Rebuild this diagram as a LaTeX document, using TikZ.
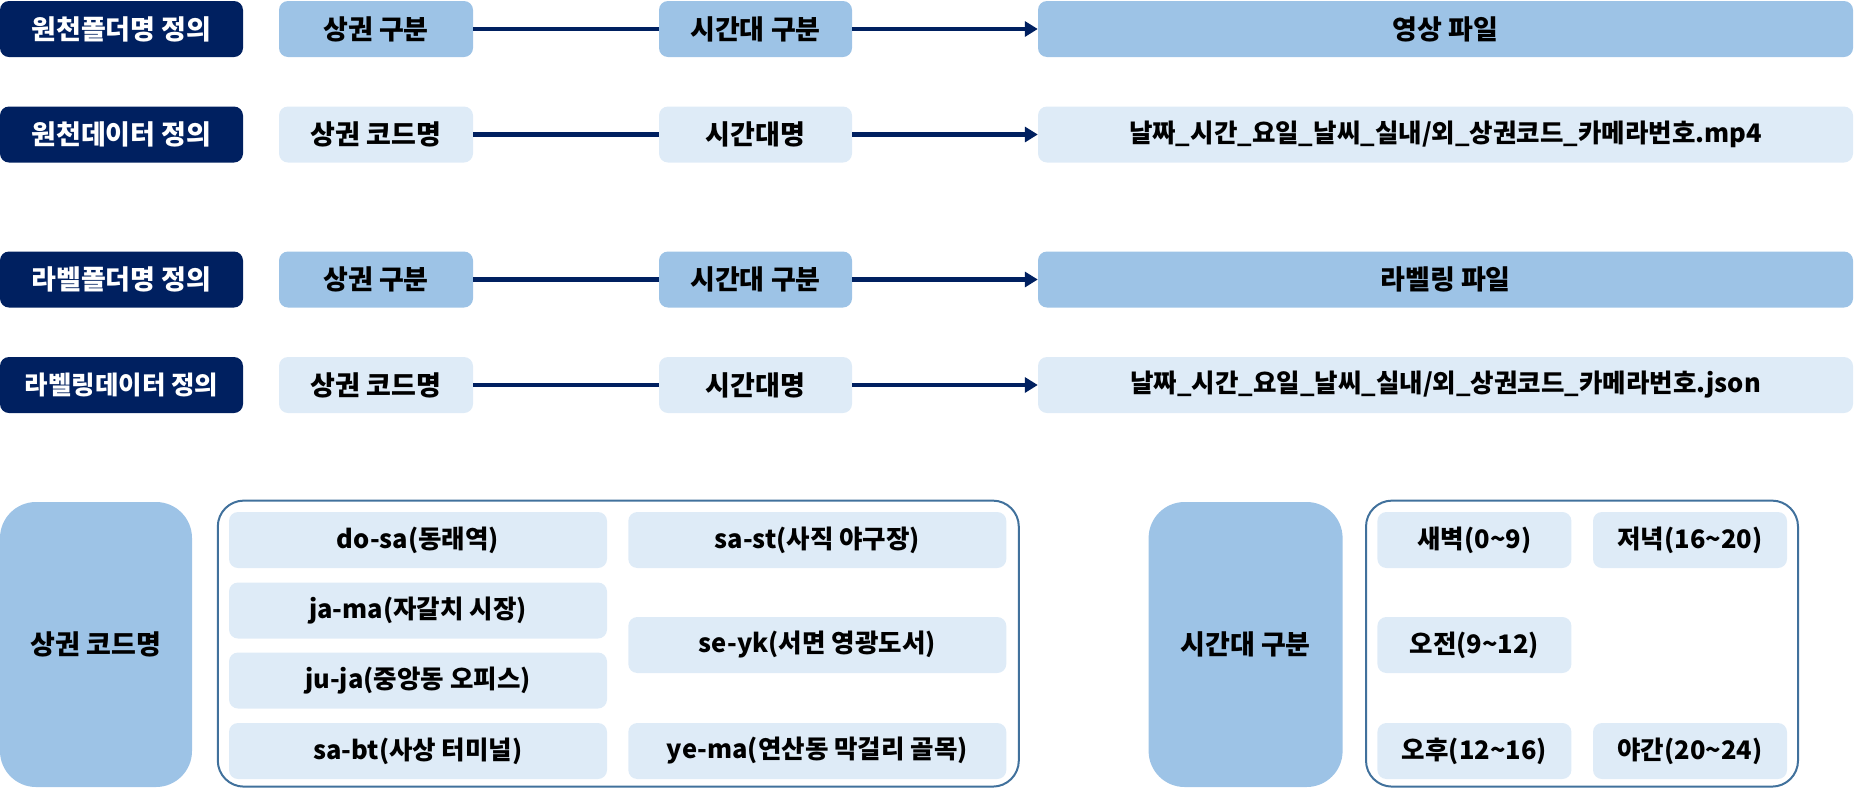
\documentclass[tikz,border=0pt]{standalone}
\usepackage{fontspec}
\newfontfamily\krfont{Noto Sans CJK KR}
\usetikzlibrary{arrows.meta,positioning}
\definecolor{hdnavy}{RGB}{0,32,96}
\definecolor{boxblue}{RGB}{157,195,230}
\definecolor{boxlight}{RGB}{222,235,247}
\definecolor{grpline}{RGB}{65,113,156}

\begin{document}
\begin{tikzpicture}[x=1pt,y=-1pt,
  every node/.style={font=\krfont\bfseries\fontsize{27}{31}\selectfont, inner sep=0pt},
  mixed/.style={font=\krfont\bfseries\fontsize{25.5}{30}\selectfont},
  defbox/.style={fill=hdnavy, text=white, rounded corners=9pt, minimum width=243pt, minimum height=56pt},
  keybox/.style={rounded corners=9pt, minimum height=56pt},
  bluebox/.style={keybox, fill=boxblue},
  litebox/.style={keybox, fill=boxlight},
  flow/.style={hdnavy, line width=4.5pt},
  grpbox/.style={draw=grpline, line width=2pt, rounded corners=26pt},
  bigbox/.style={fill=boxblue, rounded corners=36pt, minimum height=285pt}]
  \useasboundingbox (0,0) rectangle (1855,788);
  % Raw folder / raw data
  \node[defbox] (rawdir) at (121.5,29) {원천폴더명 정의};
  \node[bluebox, minimum width=194pt] (rawarea) at (376,29) {상권 구분};
  \node[bluebox, minimum width=193pt] (rawtime) at (755.5,29) {시간대 구분};
  \node[bluebox, minimum width=815pt] (rawfile) at (1445.5,29) {영상 파일};
  \node[defbox] (rawdata) at (121.5,134.5) {원천데이터 정의};
  \node[litebox, minimum width=194pt] (rawcode) at (376,134.5) {상권 코드명};
  \node[litebox, minimum width=193pt] (rawtname) at (755.5,134.5) {시간대명};
  \node[litebox, mixed, minimum width=815pt] (rawname) at (1445.5,134.5) {날짜\_시간\_요일\_날씨\_실내/외\_상권코드\_카메라번호.mp4};
  % Label folder / label data
  \node[defbox] (lbldir) at (121.5,279.5) {라벨폴더명 정의};
  \node[bluebox, minimum width=194pt] (lblarea) at (376,279.5) {상권 구분};
  \node[bluebox, minimum width=193pt] (lbltime) at (755.5,279.5) {시간대 구분};
  \node[bluebox, minimum width=815pt] (lblfile) at (1445.5,279.5) {라벨링 파일};
  \node[defbox, mixed] (lbldata) at (121.5,385) {라벨링데이터 정의};
  \node[litebox, minimum width=194pt] (lblcode) at (376,385) {상권 코드명};
  \node[litebox, minimum width=193pt] (lbltname) at (755.5,385) {시간대명};
  \node[litebox, mixed, minimum width=815pt] (lblname) at (1445.5,385) {날짜\_시간\_요일\_날씨\_실내/외\_상권코드\_카메라번호.json};
  % Arrows
  \foreach \a/\b/\c in {rawarea/rawtime/rawfile, rawcode/rawtname/rawname,
                        lblarea/lbltime/lblfile, lblcode/lbltname/lblname} {
    \draw[flow] (\a) -- (\b);
    \draw[flow, -{Triangle[length=13pt,width=15pt]}] (\b) -- (\c);
  }
  % Area codes
  \node[bigbox, minimum width=192pt] (areakey) at (96,644.5) {상권 코드명};
  \node[grpbox, minimum width=801pt, minimum height=286pt] (areagrp) at (618.3,643.6) {};
  \foreach \n/\x/\y/\t in {dosa/418/540/do-sa(동래역), jama/418/610.5/ja-ma(자갈치 시장),
                           juja/418/680.5/ju-ja(중앙동 오피스), sabt/418/751/sa-bt(사상 터미널),
                           sast/817.3/540/sa-st(사직 야구장), seyk/817.3/645/se-yk(서면 영광도서),
                           yema/817.3/751/ye-ma(연산동 막걸리 골목)} {
    \node[litebox, mixed, minimum width=378pt] (\n) at (\x,\y) {\t};
  }
  % Time slots
  \node[bigbox, minimum width=194pt] (timekey) at (1245.6,644.5) {시간대 구분};
  \node[grpbox, minimum width=432pt, minimum height=286pt] (timegrp) at (1582,643.6) {};
  \foreach \n/\x/\y/\t in {dawn/1474.4/540/새벽(0\textasciitilde 9), morn/1474.4/645/오전(9\textasciitilde 12),
                           noon/1474.4/751/오후(12\textasciitilde 16), eve/1690/540/저녁(16\textasciitilde 20),
                           night/1690/751/야간(20\textasciitilde 24)} {
    \node[litebox, mixed, minimum width=194pt] (\n) at (\x,\y) {\t};
  }
\end{tikzpicture}
\end{document}
